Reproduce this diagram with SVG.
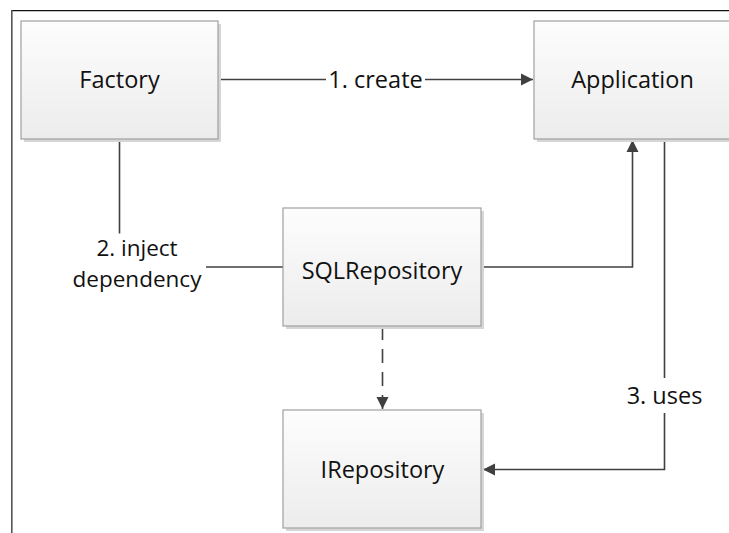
<svg xmlns="http://www.w3.org/2000/svg" width="729" height="533" viewBox="0 0 729 533">
<defs>
<linearGradient id="boxFill" x1="0" y1="0" x2="0" y2="1">
<stop offset="0" stop-color="#fdfdfd"/>
<stop offset="1" stop-color="#ececec"/>
</linearGradient>
<marker id="arrow" markerUnits="userSpaceOnUse" markerWidth="13" markerHeight="13" refX="12" refY="6" orient="auto" viewBox="0 0 13 12">
<path d="M0,0 L12,6 L0,12 z" fill="#404040"/>
</marker>
</defs>
<style>
.frame-top{stroke:#111;stroke-width:1.2;fill:none}
.frame-left{stroke:#555;stroke-width:1.6;fill:none}
.shadow{fill:#d6d6d6}
.box{fill:url(#boxFill);stroke:#a0a0a0;stroke-width:1.2}
.label{font-family:"Open Sans","Liberation Sans",sans-serif;font-size:23.5px;fill:#111;text-anchor:middle}
.small{font-size:22.5px}
.conn{stroke:#404040;stroke-width:1.6;fill:none}
.dashed{stroke-dasharray:14 9}
.lblbg{fill:#fff}
</style>
<rect x="0" y="0" width="729" height="533" fill="#fff"/>
<line class="frame-top" x1="12" y1="10.6" x2="729" y2="10.6"/>
<line class="frame-left" x1="11.8" y1="10" x2="11.8" y2="533"/>

<g id="connectors">
<path class="conn" d="M218,79.5 H533" marker-end="url(#arrow)"/>
<rect class="lblbg" x="326" y="64" width="99" height="30"/>
<text class="label" x="375.5" y="88">1. create</text>

<path class="conn" d="M119.5,139 V267 H283"/>
<rect class="lblbg" x="60" y="233.5" width="146" height="64"/>
<text class="label small" x="137" y="256">2. inject</text>
<text class="label small" x="137" y="287">dependency</text>

<path class="conn" d="M481,267 H632.5 V140" marker-end="url(#arrow)"/>

<path class="conn" d="M664.5,139 V469.5 H483" marker-end="url(#arrow)"/>
<rect class="lblbg" x="622" y="378" width="85" height="35"/>
<text class="label" x="664.5" y="404">3. uses</text>

<path class="conn dashed" d="M382.5,326 V409" marker-end="url(#arrow)"/>
</g>

<g id="factory">
<rect class="shadow" x="24" y="24" width="197" height="118"/>
<rect class="box" x="21" y="21" width="197" height="118"/>
<text class="label" x="119.5" y="88">Factory</text>
</g>

<g id="application">
<rect class="shadow" x="537" y="24" width="197" height="118"/>
<rect class="box" x="534" y="21" width="197" height="118"/>
<text class="label" x="632.5" y="88">Application</text>
</g>

<g id="sqlrepository">
<rect class="shadow" x="286" y="211" width="198" height="118"/>
<rect class="box" x="283" y="208" width="198" height="118"/>
<text class="label" x="382" y="278.5">SQLRepository</text>
</g>

<g id="irepository">
<rect class="shadow" x="286" y="413" width="198" height="118"/>
<rect class="box" x="283" y="410" width="198" height="118"/>
<text class="label" x="382.5" y="477.5">IRepository</text>
</g>
</svg>
